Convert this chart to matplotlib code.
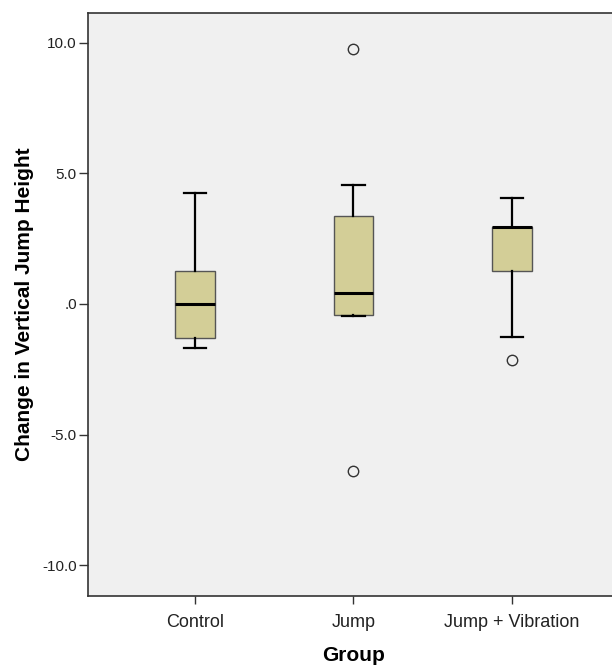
import matplotlib
matplotlib.use("Agg")
import matplotlib.pyplot as plt

groups = ["Control", "Jump", "Jump + Vibration"]
whis_lo = [-1.70, -0.45, -1.28]
q1 = [-1.29, -0.43, 1.27]
median = [0.0, 0.43, 2.96]
q3 = [1.28, 3.38, 2.96]
whis_hi = [4.25, 4.57, 4.07]
outliers = [[], [9.75, -6.39], [-2.13]]

yticks = [-10, -5, 0, 5, 10]
ytick_labels = ["-10.0", "-5.0", ".0", "5.0", "10.0"]

plt.rcParams['font.family'] = ['Liberation Sans', 'DejaVu Sans']

stats = []
for i, g in enumerate(groups):
    stats.append(dict(label=g, whislo=whis_lo[i], q1=q1[i], med=median[i],
                      q3=q3[i], whishi=whis_hi[i], fliers=outliers[i]))

fig = plt.figure(figsize=(6.12, 6.66), dpi=100)
ax = fig.add_axes([88 / 612, 1 - 596 / 666, (619 - 88) / 612, (596 - 13) / 666])
ax.set_facecolor("#f0f0f0")

ax.bxp(stats, positions=[1, 2, 3], widths=0.25, capwidths=0.14, patch_artist=True,
       boxprops=dict(facecolor="#d3ce97", edgecolor="#555555", linewidth=1.0),
       medianprops=dict(color="black", linewidth=2.2),
       whiskerprops=dict(color="black", linewidth=1.6),
       capprops=dict(color="black", linewidth=1.6),
       flierprops=dict(marker="o", markerfacecolor="none", markeredgecolor="#333333",
                       markersize=7.5, markeredgewidth=1.0))

ax.set_xlim(0.324, 3.676)
ax.set_ylim(-11.18, 11.14)
ax.set_yticks(yticks)
ax.set_yticklabels(ytick_labels)

for s in ax.spines.values():
    s.set_color("#333333")
    s.set_linewidth(1.2)

ax.tick_params(axis="y", direction="out", length=6.5, width=1, color="#333333",
               labelsize=11, labelcolor="#222222", pad=1.5)
ax.tick_params(axis="x", direction="out", length=6, width=1, color="#333333",
               labelsize=13, labelcolor="#222222", pad=7)

ax.set_ylabel("Change in Vertical Jump Height", fontsize=15, fontweight="bold", labelpad=6)
ax.set_xlabel("Group", fontsize=15, fontweight="bold", labelpad=11)

fig.savefig("out.png", dpi=100)
